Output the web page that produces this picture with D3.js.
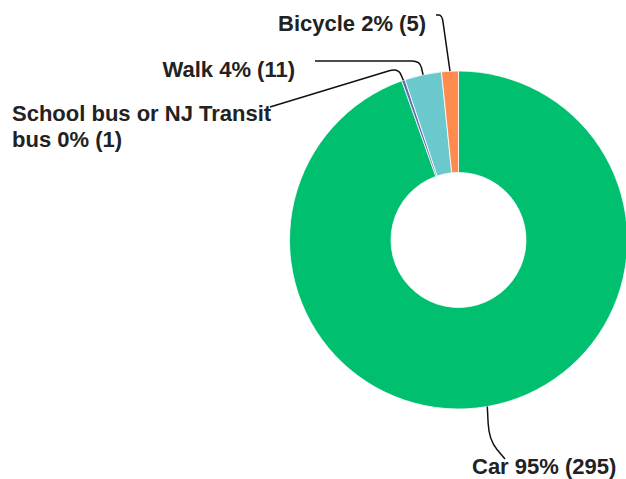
<!DOCTYPE html>
<html>
<head>
<meta charset="utf-8">
<script src="https://cdn.jsdelivr.net/npm/d3@7"></script>
<style>
    html, body { margin: 0; padding: 0; background: #fff; }
    text { font-family: "Liberation Sans", Arial, sans-serif; font-weight: 700; font-size: 22px; fill: #222; }
</style>
</head>
<body>
<svg class="chart" width="626" height="479"></svg>
<script>
    'use strict';

    // answers, in the order the slices run clockwise from 12 o'clock
    const categories = ['Car', 'School bus or NJ Transit bus', 'Walk', 'Bicycle'];
    const counts = [295, 1, 11, 5];
    const colors = ['#00bf6f', '#5b6fb3', '#6bc8cd', '#ff8b4f'];

    // where each label sits and how its leader line bends (layout only)
    const labelLayout = [
        { x: 472, y: 474, anchor: 'start', bends: [[489, 440], [505, 459]], corner: 18 },
        { x: 12, y: 121, anchor: 'start', wrap: 262, bends: [[398, 68], [270, 107]], corner: 10 },
        { x: 295, y: 77, anchor: 'end', bends: [[420, 61], [315, 61]], corner: 8 },
        { x: 426, y: 31, anchor: 'end', bends: [[442, 15], [436, 15]], corner: 7 }
    ];

    const cx = 458.5,
          cy = 240,
          outerR = 169,
          innerR = 67.5,
          total = d3.sum(counts),
          svg = d3.select('.chart'),
          g = svg.append('g').attr('transform', `translate(${cx},${cy})`);

    const pie = d3.pie().sort(null).value(d => d.count),
          arc = d3.arc().innerRadius(innerR).outerRadius(outerR),
          edgeArc = d3.arc().innerRadius(outerR).outerRadius(outerR);

    const rows = categories.map((c, i) => ({ name: c, count: counts[i], color: colors[i], layout: labelLayout[i] }));
    const slices = pie(rows);

    g.selectAll('path.slice')
        .data(slices)
        .enter()
        .append('path')
        .attr('class', 'slice')
        .attr('fill', d => d.data.color)
        .attr('stroke', '#fff')
        .attr('stroke-width', 0.8)
        .attr('d', arc);

    // polyline with rounded corners
    const roundedPath = (pts, r) => {
        let p = d3.path();
        p.moveTo(pts[0][0], pts[0][1]);
        for (let i = 1; i < pts.length - 1; i++) {
            const [x0, y0] = pts[i - 1], [x1, y1] = pts[i], [x2, y2] = pts[i + 1];
            const l1 = Math.hypot(x1 - x0, y1 - y0), l2 = Math.hypot(x2 - x1, y2 - y1);
            const r1 = Math.min(r, l1 / 2), r2 = Math.min(r, l2 / 2);
            p.lineTo(x1 - (x1 - x0) / l1 * r1, y1 - (y1 - y0) / l1 * r1);
            p.quadraticCurveTo(x1, y1, x1 + (x2 - x1) / l2 * r2, y1 + (y2 - y1) / l2 * r2);
        }
        const last = pts[pts.length - 1];
        p.lineTo(last[0], last[1]);
        return p.toString();
    };

    svg.selectAll('path.leader')
        .data(slices)
        .enter()
        .append('path')
        .attr('class', 'leader')
        .attr('fill', 'none')
        .attr('stroke', '#111')
        .attr('stroke-width', 1.5)
        .attr('d', d => {
            const c = edgeArc.centroid(d);
            const start = [c[0] + cx, c[1] + cy];
            return roundedPath([start].concat(d.data.layout.bends), d.data.layout.corner);
        });

    const labels = svg.selectAll('text.label')
        .data(slices)
        .enter()
        .append('text')
        .attr('class', 'label')
        .attr('text-anchor', d => d.data.layout.anchor);

    labels.each(function(d) {
        const t = d3.select(this),
              lay = d.data.layout,
              pct = Math.round(d.data.count / total * 100),
              full = `${d.data.name} ${pct}% (${d.data.count})`;

        if (!lay.wrap) {
            t.append('tspan').attr('x', lay.x).attr('y', lay.y).text(full);
            return;
        }

        // word wrap to the given width
        const words = full.split(' ');
        let line = [], lineNo = 0;
        let tspan = t.append('tspan').attr('x', lay.x).attr('y', lay.y);
        words.forEach(w => {
            line.push(w);
            tspan.text(line.join(' '));
            if (tspan.node().getComputedTextLength() > lay.wrap && line.length > 1) {
                line.pop();
                tspan.text(line.join(' '));
                line = [w];
                lineNo++;
                tspan = t.append('tspan').attr('x', lay.x).attr('y', lay.y + lineNo * 26).text(w);
            }
        });
    });
</script>
</body>
</html>
